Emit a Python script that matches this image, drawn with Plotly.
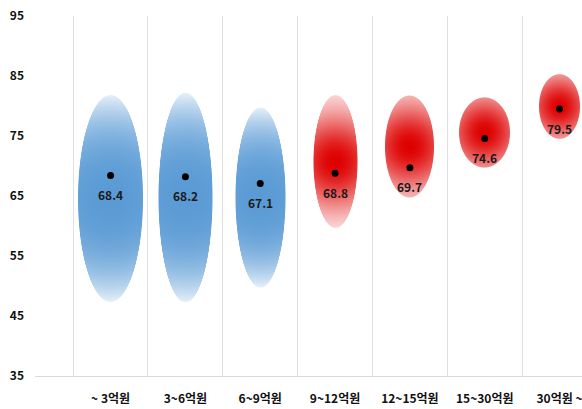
import numpy as np
import plotly.graph_objects as go

# ---- data -------------------------------------------------------------
categories = ["~ 3억원", "3~6억원", "6~9억원", "9~12억원", "12~15억원", "15~30억원", "30억원 ~"]
scores = [68.4, 68.2, 67.1, 68.8, 69.7, 74.6, 79.5]
range_high = [81.8, 82.2, 79.8, 81.8, 81.8, 81.5, 85.3]
range_low = [47.3, 47.3, 49.8, 59.7, 64.8, 69.8, 74.5]
tier = ["low", "low", "low", "high", "high", "high", "high"]
y_ticks = [35, 45, 55, 65, 75, 85, 95]

# ---- layout / style ---------------------------------------------------
W, H = 582, 409
MARGIN = dict(l=35, r=0, t=16, b=33)
X_RANGE = [-1.01, 6.30]
Y_RANGE = [35, 95]
FONT = "Noto Sans CJK KR, Noto Sans, sans-serif"
BLOB_WIDTH_PX = [65, 54, 50, 44, 49, 51, 41]
TIER_COLOR = {"low": "rgb(91,155,213)", "high": "rgb(222,0,0)"}

px_x = (W - MARGIN["l"] - MARGIN["r"]) / (X_RANGE[1] - X_RANGE[0])
px_y = (H - MARGIN["t"] - MARGIN["b"]) / (Y_RANGE[1] - Y_RANGE[0])


def blob(i):
    """Gradient-filled ellipse for category i, built on a 1px grid."""
    a = BLOB_WIDTH_PX[i] / 2.0
    b = (range_high[i] - range_low[i]) / 2.0 * px_y
    cy = (range_high[i] + range_low[i]) / 2.0
    xs = np.arange(-np.ceil(a) - 1, np.ceil(a) + 2)
    ys = np.arange(-np.ceil(b) - 1, np.ceil(b) + 2)
    X, Y = np.meshgrid(xs, ys)
    q = np.sqrt((X / a) ** 2 + (Y / b) ** 2)
    d = np.hypot(X, Y)
    with np.errstate(divide="ignore", invalid="ignore"):
        edge = np.where(q > 0, (1 - q) * d / q, 1e3)
    cov = np.clip(0.5 + edge, 0, 1)
    if tier[i] == "low":
        dn = np.clip(d / b, 0, 1)
        inten = 1 - 0.85 * dn ** 2.6
    else:
        u = d / np.sqrt(a * b)
        inten = np.exp(-(u / 1.3) ** 2)
    z = inten * cov
    z[cov <= 0] = np.nan
    return go.Heatmap(
        x=i + xs / px_x,
        y=cy + ys / px_y,
        z=z,
        zmin=0,
        zmax=1,
        colorscale=[[0, "rgb(255,255,255)"], [1, TIER_COLOR[tier[i]]]],
        showscale=False,
        hoverinfo="skip",
    )


fig = go.Figure()
for i in range(len(categories)):
    fig.add_trace(blob(i))

fig.add_trace(
    go.Scatter(
        x=list(range(len(categories))),
        y=scores,
        mode="markers",
        marker=dict(size=7, color="black"),
        hoverinfo="skip",
        showlegend=False,
    )
)

for i, v in enumerate(scores):
    fig.add_annotation(
        x=i, y=v, text=f"{v}", showarrow=False, yshift=-19,
        font=dict(family=FONT, size=12, color="#1a1a1a", weight="bold"),
    )

fig.update_layout(
    width=W,
    height=H,
    margin=MARGIN,
    paper_bgcolor="white",
    plot_bgcolor="white",
    showlegend=False,
    font=dict(family=FONT),
    xaxis=dict(
        range=X_RANGE,
        tickmode="array",
        tickvals=list(range(len(categories))),
        ticktext=categories,
        tickfont=dict(family=FONT, size=12, color="#111", weight="bold"),
        ticklabeloverflow="allow",
        showgrid=False,
        zeroline=False,
        showline=True,
        linecolor="#d9d9d9",
        linewidth=1,
        ticks="",
        ticklabelstandoff=12,
        minor=dict(
            tickmode="array",
            tickvals=[k - 0.5 for k in range(len(categories) + 1)],
            showgrid=True,
            gridcolor="#e0e0e0",
            gridwidth=1,
            ticks="",
        ),
    ),
    yaxis=dict(
        range=Y_RANGE,
        tickmode="array",
        tickvals=y_ticks,
        tickfont=dict(family=FONT, size=12, color="#111", weight="bold"),
        showgrid=False,
        zeroline=False,
        showline=False,
        ticks="",
        ticklabelstandoff=10,
    ),
)

fig.write_html("out.html")
